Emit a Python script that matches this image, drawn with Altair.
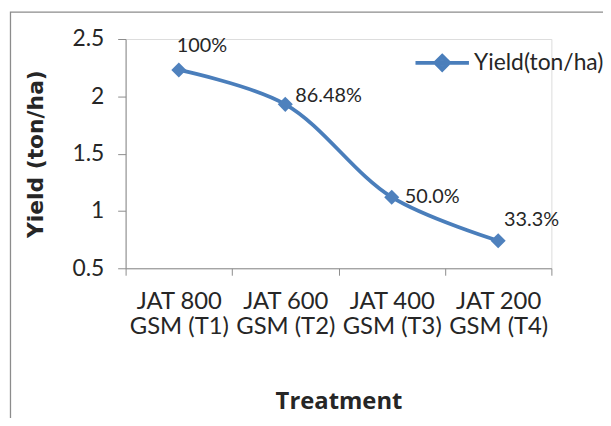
import altair as alt
import pandas as pd

# ---- data ----
treatments = ["JAT 800 GSM (T1)", "JAT 600 GSM (T2)", "JAT 400 GSM (T3)", "JAT 200 GSM (T4)"]
yields = [2.23, 1.93, 1.12, 0.74]
pct_labels = ["100%", "86.48%", "50.0%", "33.3%"]
series_name = "Yield(ton/ha)"
y_ticks = [0.5, 1, 1.5, 2, 2.5]

df = pd.DataFrame({
    "Treatment": treatments,
    "Yield": yields,
    "Label": pct_labels,
    "Series": [series_name] * len(treatments),
})

BLUE = "#4A7EBB"
FILL = "#4F81BD"
TXT = "#262626"
GRAY = "#8C8C8C"
FONT = "Lato"

x = alt.X(
    "Treatment:N",
    sort=treatments,
    scale=alt.Scale(type="band", paddingInner=0, paddingOuter=0),
    axis=alt.Axis(
        title="Treatment",
        labelAngle=0,
        tickBand="extent",
        labelExpr="[slice(datum.label, 0, 7), slice(datum.label, 8)]",
        labelFont=FONT, labelFontSize=24, labelColor=TXT, labelLineHeight=25,
        labelPadding=15, tickSize=7, tickColor=GRAY, domainColor=GRAY,
        titleFont="Open Sans", titleFontSize=24, titleFontWeight="bold", titleColor=TXT,
        titlePadding=51,
    ),
)
y = alt.Y(
    "Yield:Q",
    scale=alt.Scale(domain=[0.5, 2.5]),
    axis=alt.Axis(
        title="Yield (ton/ha)",
        values=y_ticks,
        labelExpr="'' + datum.value",
        grid=False,
        labelFont=FONT, labelFontSize=23, labelColor=TXT, labelPadding=14,
        tickSize=8, tickColor=GRAY, domainColor=GRAY,
        titleFont="DejaVu Sans", titleFontSize=22, titleFontWeight="bold", titleColor=TXT,
        titlePadding=25,
    ),
)

legend_path = "M-1,0L1,0M0,-0.26L0.26,0L0,0.26L-0.26,0Z"

base = alt.Chart(df)

border = alt.Chart(pd.DataFrame({"a": [0]})).mark_rect(
    fill="transparent", stroke=GRAY, strokeWidth=1.3
).encode(x=alt.value(-116), x2=alt.value(700), y=alt.value(-27), y2=alt.value(600))

line = base.mark_line(interpolate="catmull-rom", strokeWidth=3.8, color=BLUE).encode(x=x, y=y)

points = base.mark_point(shape="diamond", filled=True, size=230, opacity=1).encode(
    x=x, y=y,
    color=alt.Color(
        "Series:N",
        scale=alt.Scale(range=[FILL]),
        legend=alt.Legend(
            title=None, orient="none", legendX=290, legendY=-5,
            symbolType=legend_path, symbolSize=2900, symbolOpacity=1,
            symbolFillColor=FILL, symbolStrokeColor=BLUE, symbolStrokeWidth=3.8,
            labelFont=FONT, labelFontSize=23, labelColor=TXT, labelOffset=3, labelLimit=0,
        ),
    ),
)

offsets = [(-2, -24), (10, -8), (13, 0), (6, -21)]
texts = []
for cat, (ddx, ddy) in zip(treatments, offsets):
    texts.append(
        base.transform_filter(alt.datum.Treatment == cat)
        .mark_text(align="left", baseline="middle", dx=ddx, dy=ddy, font=FONT, fontSize=20, color=TXT)
        .encode(x=x, y=y, text="Label:N")
    )

chart = alt.layer(border, line, points, *texts).properties(
    width=429, height=231,
    padding={"left": 118.5, "top": 29.7, "right": 52, "bottom": 149},
    autosize=alt.AutoSizeParams(type="none"),
).configure_view(stroke=None).configure(background="white").configure_legend(padding=0)

chart.save("out.html", embed_options={"renderer": "svg", "actions": False})
